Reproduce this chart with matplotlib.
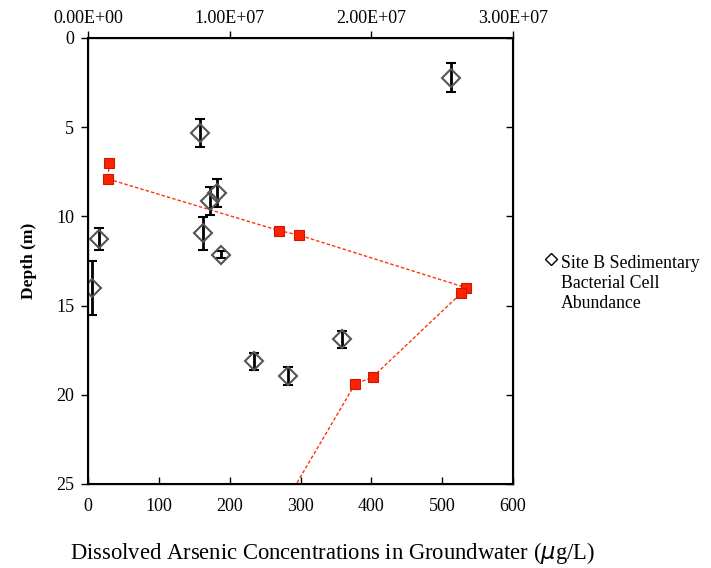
import matplotlib.pyplot as plt
from matplotlib.lines import Line2D

plt.rcParams['font.family'] = ['Liberation Serif', 'DejaVu Serif']

# dissolved arsenic (ug/L) vs depth (m); last point sits below the plotted range
arsenic_ugL = [30, 28, 270, 298, 534, 527, 402, 377, 220]
arsenic_depth = [7.0, 7.9, 10.8, 11.05, 14.0, 14.3, 19.0, 19.4, 30.0]

# sedimentary bacterial cell abundance vs depth, with depth error
cells = [2.56e7, 7.9e6, 9.1e6, 8.6e6, 7.8e5, 8.1e6, 9.4e6, 3.0e5, 1.79e7, 1.17e7, 1.41e7]
cell_depth = [2.22, 5.33, 8.67, 9.14, 11.25, 10.95, 12.16, 14.0, 16.89, 18.12, 18.95]
cell_err = [0.8, 0.78, 0.78, 0.76, 0.62, 0.93, 0.2, 1.5, 0.47, 0.47, 0.49]

bottom_ticks = [0, 100, 200, 300, 400, 500, 600]
top_ticks = [0, 1e7, 2e7, 3e7]
top_labels = ['0.00E+00', '1.00E+07', '2.00E+07', '3.00E+07']
depth_ticks = [0, 5, 10, 15, 20, 25]

fig = plt.figure(figsize=(7.11, 5.68), dpi=100)
ax = fig.add_axes([0.1238, 0.1479, 0.5977, 0.7852])

ax.plot(arsenic_ugL, arsenic_depth, linestyle=(0, (2.5, 1.5)), color='#ff3311', lw=1,
        marker='s', markersize=7, markerfacecolor='#ff2200', markeredgecolor='#c81a00',
        markeredgewidth=0.8, zorder=3)
ax.set_xlim(0, 600)
ax.set_ylim(25, 0)
ax.set_xticks(bottom_ticks)
ax.set_yticks(depth_ticks)
ax.tick_params(axis='x', direction='in', length=5, width=1, labelsize=13, pad=10)
ax.tick_params(axis='y', direction='out', length=5, width=1, labelsize=13, pad=5)
for s in ax.spines.values():
    s.set_linewidth(1.5)

top = ax.twiny()
top.errorbar(cells, cell_depth, yerr=cell_err, fmt='D', markersize=9,
             markerfacecolor='none', markeredgecolor='#555555', markeredgewidth=1.5,
             ecolor='black', elinewidth=2, capsize=3.5, capthick=2, zorder=4)
top.set_xlim(0, 3e7)
top.set_xticks(top_ticks)
top.set_xticklabels(top_labels)
top.tick_params(axis='x', direction='out', length=5, width=1, labelsize=13, pad=3)
ax.set_ylim(25, 0)

# right spine ticks pointing inward
ax2 = ax.twinx()
ax2.set_ylim(25, 0)
ax2.set_yticks(depth_ticks)
ax2.tick_params(axis='y', direction='in', length=5, width=1, labelright=False)

ax.set_ylabel('Depth (m)', fontsize=12.5, fontweight='bold', labelpad=14)
fig.text(0.468, 1 - 553 / 568, 'Dissolved Arsenic Concentrations in Groundwater ($\\mu$g/L)',
         ha='center', va='center', fontsize=16.3)

# legend entry: diamond next to the first line of a wrapped label
fig.add_artist(Line2D([551 / 711], [1 - 259 / 568], marker='D', linestyle='none',
                      markersize=6, markerfacecolor='none', markeredgecolor='black',
                      markeredgewidth=1, transform=fig.transFigure))
fig.text(561 / 711, 1 - 255 / 568, 'Site B Sedimentary\nBacterial Cell\nAbundance',
         ha='left', va='top', fontsize=12.8, linespacing=1.22)

fig.savefig('out.png', dpi=100)
